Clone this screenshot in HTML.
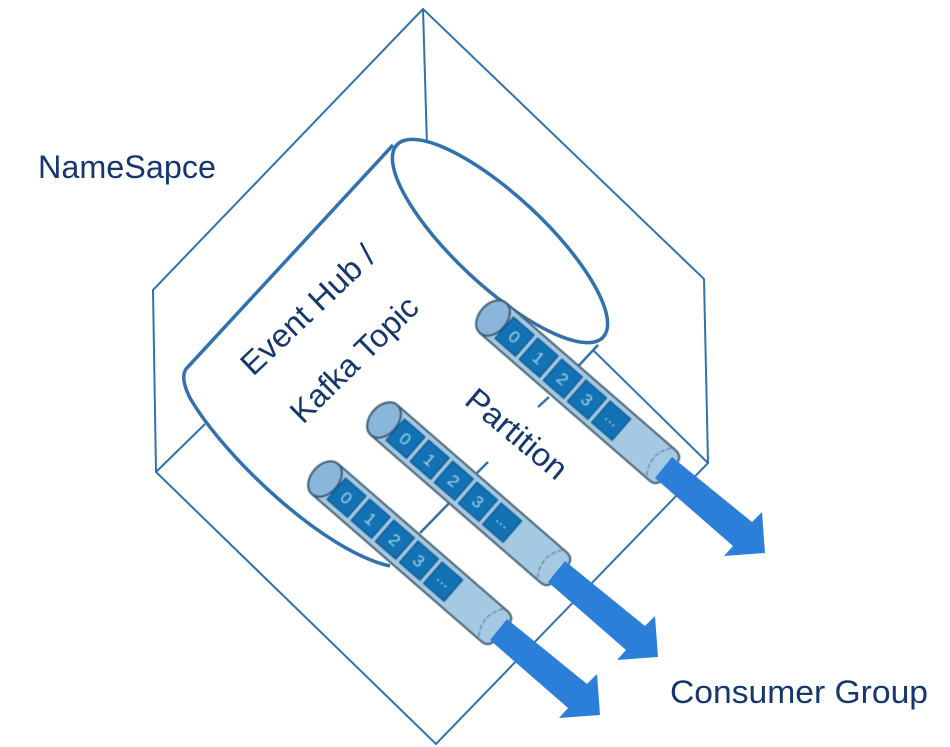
<!DOCTYPE html>
<html><head><meta charset="utf-8"><style>
html,body{margin:0;padding:0;background:#fff}
svg{display:block}
.t{font-family:"Liberation Sans",sans-serif;fill:#16376e}
.d{font-family:"Liberation Sans",sans-serif;font-size:17px;fill:#a9d8ec;text-anchor:middle}
.c{fill:#1272b4;stroke:#0e5a94;stroke-width:1.5}
.b{fill:#a5c9e3;stroke:#465f72;stroke-width:2}
.e{fill:#8ab6dc;stroke:#3c5a74;stroke-width:2}
.ar{fill:#2b7fd9}
.s{fill:none;stroke:#5d8199;stroke-width:1.2;stroke-dasharray:5 2}
.p{filter:blur(.5px)}
</style></head><body>
<svg width="950" height="747" viewBox="0 0 950 747" xmlns="http://www.w3.org/2000/svg">
<rect width="950" height="747" fill="#fff"/>
<g fill="none" stroke="#3272ac" stroke-width="2">
<path d="M423 9L153 290L156 472L436 744L708 463L704 279Z"/>
<path d="M423 9L427 146"/>
<path d="M156 472L205 424"/>
<path d="M708 463L593 350"/>
</g>
<path d="M393 145L186 369Q180 378 190 398C225 458 325 552 385 566L420 533L598 345L500 200Z" fill="#fff"/>
<g fill="none" stroke="#3272ac" stroke-width="2.5">
<path d="M598 345L570 375"/>
<path d="M549 397L538 407"/>
<path d="M488 462L477 473"/>
<path d="M460 492L420 533"/>
</g>
<path d="M393 145L186 369Q180 378 190 398C225 458 325 552 390 566" fill="none" stroke="#3272ac" stroke-width="3.5"/>
<ellipse cx="500" cy="241" rx="141" ry="45" transform="rotate(43 500 241)" fill="#fff" stroke="#3272ac" stroke-width="3.5"/>

<text class="t" x="38" y="178" font-size="32" textLength="178" lengthAdjust="spacingAndGlyphs">NameSapce</text>
<text class="t" x="670" y="703" font-size="32" textLength="258" lengthAdjust="spacingAndGlyphs">Consumer Group</text>
<text class="t" transform="translate(253 377) rotate(-43.5)" font-size="32" textLength="172" lengthAdjust="spacingAndGlyphs">Event Hub /</text>
<text class="t" transform="translate(303 425) rotate(-44.5)" font-size="32" textLength="165" lengthAdjust="spacingAndGlyphs">Kafka Topic</text>
<text class="t" transform="translate(463 403) rotate(40)" font-size="32" textLength="122" lengthAdjust="spacingAndGlyphs">Partition</text>

<g class="p" transform="translate(493 318) rotate(41)">
<path class="b" d="M0 -20H224Q234 -20 234 -10V10Q234 20 224 20H0Z"/>
<ellipse class="e" cx="0" cy="0" rx="14" ry="20"/>
<rect class="c" x="15" y="-14" width="27" height="28"/><rect class="c" x="47" y="-14" width="27" height="28"/><rect class="c" x="79" y="-14" width="27" height="28"/><rect class="c" x="111" y="-14" width="27" height="28"/><rect class="c" x="143" y="-14" width="27" height="28"/>
<text class="d" x="28.500" y="6">0</text><text class="d" x="60.500" y="6">1</text><text class="d" x="92.500" y="6">2</text><text class="d" x="124.500" y="6">3</text><text class="d" x="156.500" y="3">...</text>
<path class="s" d="M220 -19Q206 0 220 19"/>
</g>
<path class="ar" d="M655 478L672 457L752 522L762 512L765 553L724 556L733 546Z"/>

<g class="p" transform="translate(384 420) rotate(41)">
<path class="b" d="M0 -20H224Q234 -20 234 -10V10Q234 20 224 20H0Z"/>
<ellipse class="e" cx="0" cy="0" rx="14" ry="20"/>
<rect class="c" x="15" y="-14" width="27" height="28"/><rect class="c" x="47" y="-14" width="27" height="28"/><rect class="c" x="79" y="-14" width="27" height="28"/><rect class="c" x="111" y="-14" width="27" height="28"/><rect class="c" x="143" y="-14" width="27" height="28"/>
<text class="d" x="28.500" y="6">0</text><text class="d" x="60.500" y="6">1</text><text class="d" x="92.500" y="6">2</text><text class="d" x="124.500" y="6">3</text><text class="d" x="156.500" y="3">...</text>
<path class="s" d="M220 -19Q206 0 220 19"/>
</g>
<path class="ar" d="M548 582L565 561L645 626L655 616L658 657L617 660L626 650Z"/>

<g class="p" transform="translate(325 479) rotate(41)">
<path class="b" d="M0 -20H224Q234 -20 234 -10V10Q234 20 224 20H0Z"/>
<ellipse class="e" cx="0" cy="0" rx="14" ry="20"/>
<rect class="c" x="15" y="-14" width="27" height="28"/><rect class="c" x="47" y="-14" width="27" height="28"/><rect class="c" x="79" y="-14" width="27" height="28"/><rect class="c" x="111" y="-14" width="27" height="28"/><rect class="c" x="143" y="-14" width="27" height="28"/>
<text class="d" x="28.500" y="6">0</text><text class="d" x="60.500" y="6">1</text><text class="d" x="92.500" y="6">2</text><text class="d" x="124.500" y="6">3</text><text class="d" x="156.500" y="3">...</text>
<path class="s" d="M220 -19Q206 0 220 19"/>
</g>
<path class="ar" d="M490 640L507 619L587 684L597 674L600 715L559 718L568 708Z"/>
</svg>
</body></html>
